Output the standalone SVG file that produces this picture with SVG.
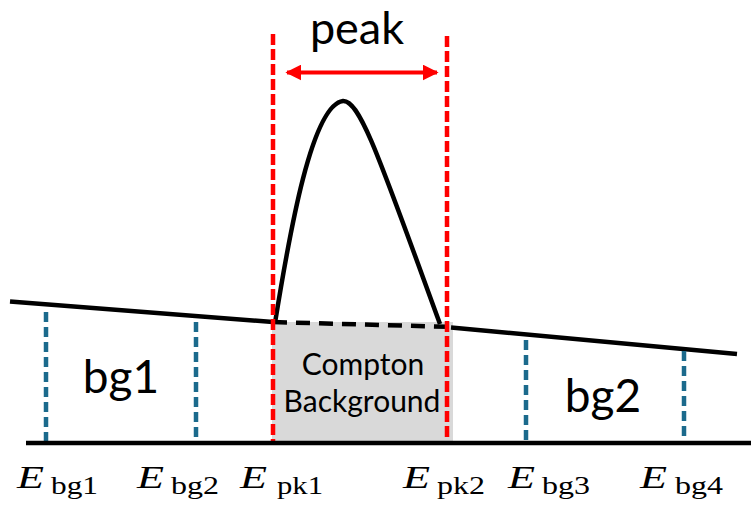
<svg xmlns="http://www.w3.org/2000/svg" width="751" height="506" viewBox="0 0 751 506">
<defs>
<style>
.lbl{font-family:Lato,"Open Sans","Noto Sans",sans-serif;fill:#000;text-anchor:middle}
.E{font-family:"Liberation Serif","Times New Roman",serif;font-style:italic;font-size:32px;fill:#000}
.sub{font-family:"Liberation Serif","Times New Roman",serif;font-size:26px;fill:#000}
.blk{stroke:#000;stroke-width:4.5;fill:none;stroke-linecap:butt}
.red{stroke:#ff0000;stroke-width:4.5;fill:none;stroke-dasharray:11 4}
.blue{stroke:#1b6a8c;stroke-width:4.5;fill:none;stroke-dasharray:10 5}
</style>
<marker id="ah" viewBox="0 0 10 10" refX="9" refY="5" markerWidth="4" markerHeight="4" orient="auto-start-reverse" markerUnits="strokeWidth">
<path d="M0,0 L10,5 L0,10 z" fill="#ff0000"/>
</marker>
</defs>
<rect width="751" height="506" fill="#fff"/>
<g id="compton-area">
<rect x="272" y="322" width="181" height="121" fill="#d9d9d9"/>
</g>
<g id="connectors">
<path class="blk" d="M10,301.5 L273,322"/>
<path class="blk" d="M273,322 L453,327" stroke-dasharray="14 9"/>
<path class="blk" d="M451,327.5 L737,354"/>
<path class="blk" d="M275,323 C290,230 312,105 343,101 C360,100 380,160 440,324"/>
<path class="blue" d="M46,312 V443"/>
<path class="blue" d="M196,322 V443"/>
<path class="blue" d="M526,340 V443"/>
<path class="blue" d="M684,351 V443"/>
<path class="red" d="M273,34 V443"/>
<path class="red" d="M447,36 V443"/>
<path d="M287,72.5 H437" stroke="#ff0000" stroke-width="4" fill="none" marker-start="url(#ah)" marker-end="url(#ah)"/>
<path class="blk" d="M26,443 H751"/>
</g>
<g id="peak-label"><text class="lbl" x="357" y="44" font-size="45">peak</text></g>
<g id="bg1"><text class="lbl" x="121" y="393" font-size="46">bg1</text></g>
<g id="bg2"><text class="lbl" x="603" y="412" font-size="46">bg2</text></g>
<g id="compton"><text class="lbl" x="363" y="375" font-size="30">Compton</text><text class="lbl" x="362" y="412" font-size="30">Background</text></g>
<g id="axis-labels">
<text class="E" x="17" y="488" textLength="27" lengthAdjust="spacingAndGlyphs">E</text><text class="sub" x="51" y="494" textLength="47" lengthAdjust="spacingAndGlyphs">bg1</text>
<text class="E" x="137" y="488" textLength="27" lengthAdjust="spacingAndGlyphs">E</text><text class="sub" x="171" y="494" textLength="48" lengthAdjust="spacingAndGlyphs">bg2</text>
<text class="E" x="240" y="488" textLength="27" lengthAdjust="spacingAndGlyphs">E</text><text class="sub" x="277" y="494" textLength="46" lengthAdjust="spacingAndGlyphs">pk1</text>
<text class="E" x="403" y="488" textLength="27" lengthAdjust="spacingAndGlyphs">E</text><text class="sub" x="437" y="494" textLength="48" lengthAdjust="spacingAndGlyphs">pk2</text>
<text class="E" x="508" y="488" textLength="27" lengthAdjust="spacingAndGlyphs">E</text><text class="sub" x="542" y="494" textLength="48" lengthAdjust="spacingAndGlyphs">bg3</text>
<text class="E" x="640" y="488" textLength="27" lengthAdjust="spacingAndGlyphs">E</text><text class="sub" x="675" y="494" textLength="48" lengthAdjust="spacingAndGlyphs">bg4</text>
</g>
</svg>
